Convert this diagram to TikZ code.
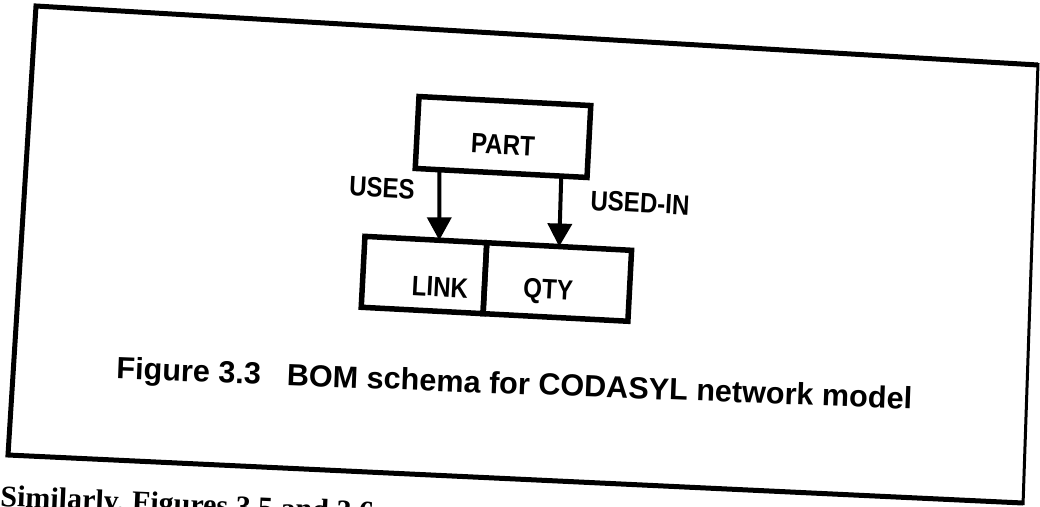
\documentclass[tikz,border=0pt]{standalone}
\usepackage{fontspec}
\newfontfamily\hv{Liberation Sans}
\newfontfamily\sr{Liberation Serif}
\usetikzlibrary{arrows.meta,calc}
\begin{document}
\begin{tikzpicture}[x=1pt,y=-1pt,
  frame/.style={line width=5pt, line join=miter},
  boxline/.style={draw, line width=5.5pt, inner sep=0pt, outer sep=0pt, rotate=-3},
  lab/.style={font=\hv\bfseries\fontsize{28}{28}\selectfont, inner sep=0pt, rotate=-3, xscale=0.86},
  captext/.style={font=\hv\bfseries\fontsize{30.6}{30.6}\selectfont, inner sep=0pt, rotate=-2.2},
  arr/.style={line width=4pt, -{Triangle[width=24pt,length=23pt]}}]
\useasboundingbox (0,0) rectangle (1040,506);
\clip (0,0) rectangle (1040,506);
\fill[white] (0,0) rectangle (1040,506);
% frame
\draw[frame] (1038,65) -- (36,6) -- (8,455) -- (1023,503);
\draw[line width=3pt] (1038,63) -- (1023,505);
% boxes
\node[boxline, minimum width=172pt, minimum height=72pt] (part) at (503,137) {};
\node[lab] (partlab) at (503,145) {PART};
\node[boxline, minimum width=122pt, minimum height=71pt] (link) at (424,275) {};
\node[boxline, minimum width=145pt, minimum height=71pt, anchor=west] (qty) at (link.east) {};
\node[lab] (linklab) at (440,287) {LINK};
\node[lab] (qtylab) at (548,292) {QTY};
% arrows
\coordinate (a1s) at ($(part.south west)!0.14!(part.south east)$);
\coordinate (a1e) at ($(link.north west)!0.61!(link.north east)$);
\coordinate (a2s) at ($(part.south west)!0.85!(part.south east)$);
\coordinate (a2e) at ($(qty.north west)!0.50!(qty.north east)$);
\draw[arr] (a1s) -- (a1e);
\draw[arr] (a2s) -- (a2e);
\node[lab] (uses) at (382,188) {USES};
\node[lab] (usedin) at (640,203) {USED-IN};
% caption
\node[captext, anchor=base] (caption) at (514,394) {Figure 3.3\hspace{26pt}BOM schema for CODASYL network model};
% text below
\node[font=\sr\bfseries\fontsize{30}{30}\selectfont, inner sep=0pt, anchor=base west, rotate=-2.5] (sim) at (0,506) {Similarly, Figures 3.5 and 3.6};
\end{tikzpicture}
\end{document}
